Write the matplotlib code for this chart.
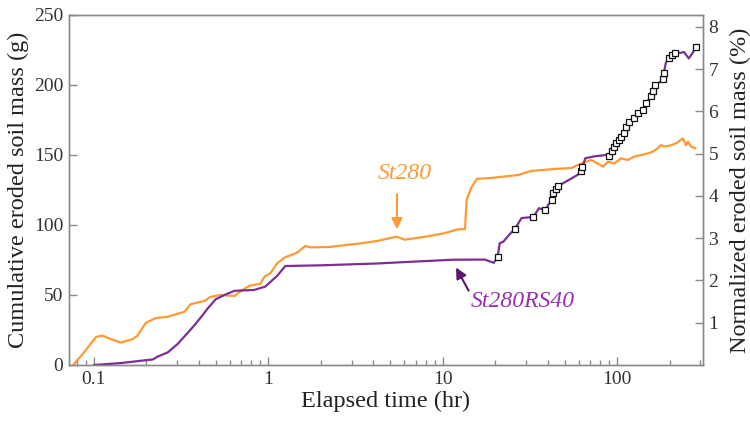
import matplotlib
matplotlib.use('Agg')
import matplotlib.pyplot as plt
from matplotlib.ticker import LogLocator, FixedLocator, NullFormatter, FixedFormatter

plt.rcParams['font.family'] = ['Liberation Serif', 'DejaVu Serif']

# St280 series (elapsed time hr, cumulative eroded mass g)
t_st = [0.076, 0.0865, 0.103, 0.112, 0.125, 0.143, 0.167, 0.178, 0.198, 0.226,
        0.265, 0.33, 0.36, 0.43, 0.466, 0.53, 0.64, 0.71, 0.78, 0.9,
        0.95, 1.03, 1.13, 1.25, 1.45, 1.63, 1.75, 2.23, 3.45, 4.2,
        5.3, 5.5, 6.06, 8.3, 10.1, 12.3, 13.4, 13.7, 14.6, 15.7,
        19.0, 27.0, 32.0, 43.6, 54.6, 62.3, 71.0, 83.0, 88.6, 96.5,
        105, 115, 125, 137, 150, 160, 171, 178, 190, 203,
        217, 238, 248, 254, 265, 280]
m_st = [0, 8, 20, 21, 18.5, 16, 18.5, 21, 30, 33.5,
        34.5, 38, 43.5, 45.7, 48.6, 50, 49.3, 53.6, 56.6, 58,
        63, 65.7, 73, 77, 80, 85, 84, 84.3, 87, 88.6,
        91.4, 91.4, 89.5, 92, 94, 97, 97, 118, 127, 133,
        133.6, 135.7, 138.6, 140, 140.7, 144, 146.4, 141.7, 145.2, 144,
        147.6, 146.4, 148.8, 150, 151.2, 152.4, 154.8, 157, 156, 157,
        158.3, 161.9, 157, 159.5, 156, 154.8]

# St280RS40 series
t_rs = [0.1, 0.143, 0.218, 0.232, 0.265, 0.302, 0.345, 0.378, 0.41, 0.45,
        0.5, 0.56, 0.64, 0.83, 0.96, 1.13, 1.25, 2.0, 4.2, 6.0,
        11.5, 17.4, 18.6, 19.6, 20.6, 21.2, 22.2, 24.0, 25.8, 28.3,
        33.0, 35.6, 38.6, 42.0, 43.0, 45.0, 46.0, 52.5, 59.6, 62.3,
        63.2, 65.6, 73.6, 86.0, 89.6, 93.5, 98.5, 102, 105.5, 109.5,
        112, 117, 124, 131, 140, 146, 157, 160, 164, 175,
        183, 185, 190, 197, 207, 213, 232, 241, 250, 257,
        271, 281, 290]
m_rs = [0, 1.4, 4, 6, 9, 15, 23, 28.6, 34, 40.5,
        47, 50, 53, 53.6, 56, 64, 70.7, 71.2, 72.5, 73.5,
        75.2, 75.3, 74, 73, 77, 87, 88, 93, 97, 105,
        105.7, 112, 110.7, 118, 123, 126, 128, 132, 136, 138.6,
        141.4, 147.7, 149, 150, 149, 153, 158.6, 160.7, 163, 166,
        170, 173.6, 176.4, 180, 182, 187, 192, 196, 200, 202,
        204, 208.6, 216, 219, 221.4, 223, 223, 223.6, 221, 219,
        223, 227, 228]

# sampled points marked on St280RS40
t_mk = [20.6, 25.8, 33.0, 38.6, 42.0, 43.0, 44.3, 46.0, 62.3, 63.2,
        89.6, 93.5, 96.0, 98.5, 102, 105.5, 109.5, 112, 117, 124,
        131, 140, 146, 157, 160, 164, 183, 185, 197, 207, 213, 281]
m_mk = [77, 97, 105.7, 110.7, 118, 123, 125.7, 128, 138.6, 141.4,
        149, 153, 155.7, 158.6, 160.7, 163, 166, 170, 173.6, 176.4,
        180, 182, 187, 192, 196, 200, 204, 208.6, 219, 221.4, 223, 227]

x_ticks = [0.1, 1, 10, 100]
x_labels = ['0.1', '1', '10', '100']
left_ticks = [0, 50, 100, 150, 200, 250]
right_ticks = [1, 2, 3, 4, 5, 6, 7, 8]

orange = '#FF9933'
purple = '#7B2F94'
grey = '#8A8A8A'
txt = '#222222'

fig = plt.figure(figsize=(7.5, 4.26), dpi=100)
ax = fig.add_axes([0.092, 0.1432, 0.8453, 0.8216])

ax.plot(t_st, m_st, color=orange, lw=1.6, zorder=3)
ax.plot(t_rs, m_rs, color=purple, lw=1.6, zorder=3)
ax.plot(t_mk, m_mk, linestyle='none', marker='s', ms=5, mfc='white',
        mec='#111111', mew=0.9, zorder=4)

ax.set_xscale('log')
ax.set_xlim(0.072, 310)
ax.set_ylim(0, 250)
ax.xaxis.set_major_locator(FixedLocator(x_ticks))
ax.xaxis.set_major_formatter(FixedFormatter(x_labels))
ax.xaxis.set_minor_locator(LogLocator(base=10, subs=range(2, 10)))
ax.xaxis.set_minor_formatter(NullFormatter())
ax.set_yticks(left_ticks)

for s in ax.spines.values():
    s.set_color(grey)
    s.set_linewidth(1.0)
ax.tick_params(axis='both', which='major', direction='in', length=6, width=1,
               color=grey, labelsize=14, labelcolor='#333333', pad=4)
ax.tick_params(axis='x', which='minor', direction='in', length=3.5, width=1, color=grey)
ax.tick_params(top=False, which='both')

ax.set_xlabel('Elapsed time (hr)', fontsize=17.5, color=txt, labelpad=2)
ax.set_ylabel('Cumulative eroded soil mass (g)', fontsize=17.5, color=txt, labelpad=4)

ax2 = ax.twinx()
ax2.set_ylim(0, 250 / 30.2)
ax2.set_yticks(right_ticks)
for s in ax2.spines.values():
    s.set_color(grey)
    s.set_linewidth(1.0)
ax2.tick_params(axis='y', direction='in', length=6, width=1, color=grey,
                labelsize=14, labelcolor='#333333', pad=4)
ax2.set_ylabel('Normalized eroded soil mass (%)', fontsize=17.5, color=txt, labelpad=8)

ax.text(6.06, 137, 'St280', color=orange, fontsize=17, style='italic',
        ha='center', va='center')
ax.annotate('', xy=(5.46, 95), xytext=(5.46, 124),
            arrowprops=dict(arrowstyle='-|>', color=orange, lw=1.5, mutation_scale=16))

ax.text(28.9, 45.7, 'St280RS40', color='#9A2FB0', fontsize=17, style='italic',
        ha='center', va='center')
ax.annotate('', xy=(11.7, 71.4), xytext=(14.3, 51.4),
            arrowprops=dict(arrowstyle='-|>', color='#5A176E', lw=1.5, mutation_scale=16))

fig.savefig('out.png', dpi=100)
